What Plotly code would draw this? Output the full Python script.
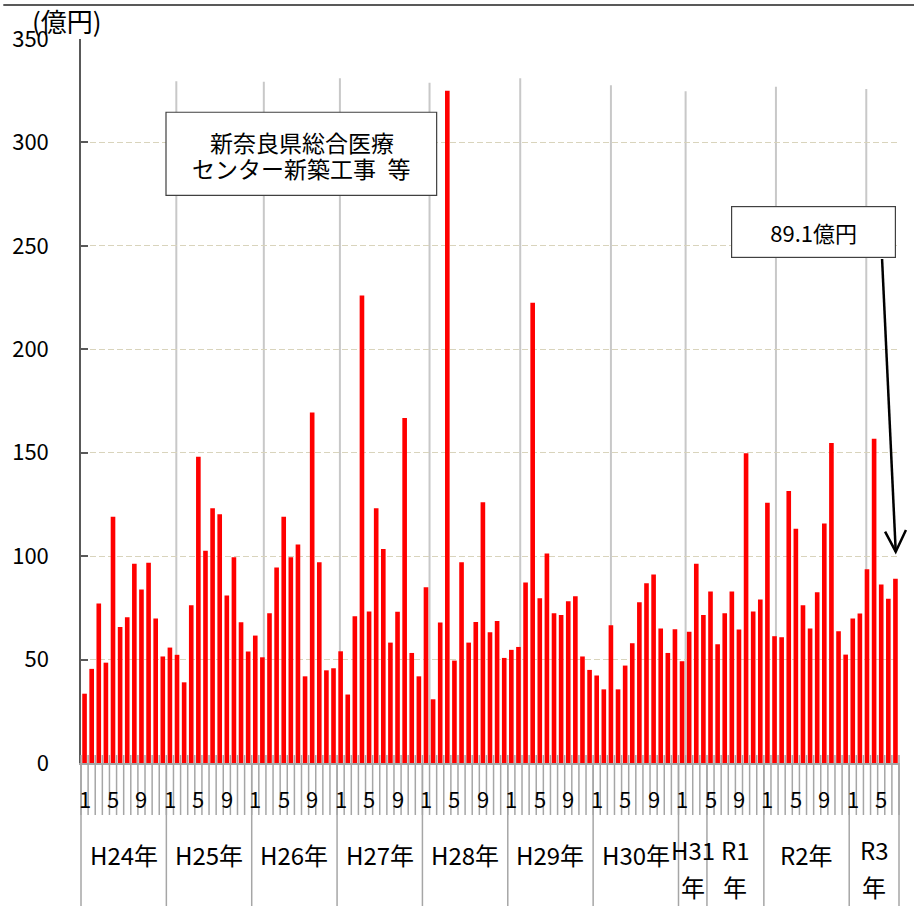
import plotly.graph_objects as go

# monthly values (億円), H24/1 .. R3/7
h24 = [33.5, 45.5, 77.1, 48.5, 119.0, 65.8, 70.5, 96.3, 83.9, 96.8, 69.8, 51.5]
h25 = [55.8, 52.3, 39.0, 76.3, 148.1, 102.6, 123.1, 120.2, 81.0, 99.5, 68.1, 53.9]
h26 = [61.6, 51.1, 72.4, 94.5, 119.0, 99.5, 105.6, 41.9, 169.4, 97.1, 44.8, 45.8]
h27 = [54.0, 33.1, 71.0, 226.0, 73.2, 123.2, 103.4, 58.2, 73.1, 166.8, 53.2, 41.9]
h28 = [85.0, 30.8, 67.9, 325.0, 49.5, 97.1, 58.2, 68.2, 126.1, 63.2, 68.7, 50.8]
h29 = [54.7, 56.1, 87.3, 222.5, 79.7, 101.3, 72.4, 71.5, 78.2, 80.6, 51.5, 45.0]
h30 = [42.3, 35.6, 66.6, 35.6, 47.1, 57.9, 77.7, 86.9, 91.1, 65.0, 53.2, 64.7]
h31 = [49.2, 63.4, 96.3, 71.5]
r1 = [82.9, 57.4, 72.4, 82.9, 64.5, 149.7, 73.2, 79.0]
r2 = [125.8, 61.3, 60.8, 131.5, 113.2, 76.3, 65.0, 82.6, 115.8, 154.7, 63.7, 52.4]
r3 = [69.8, 72.3, 93.7, 156.8, 86.3, 79.4, 89.1]

year_groups = [h24, h25, h26, h27, h28, h29, h30, h31, r1, r2, r3]
year_labels = ["H24年", "H25年", "H26年", "H27年", "H28年", "H29年", "H30年",
               "H31\n年", "R1\n年", "R2年", "R3\n年"]
month_marks = [1, 5, 9]

note_lines = ["新奈良県総合医療", "センター新築工事\u2002等"]
last_label = "89.1億円"

# grey divider lines drawn over the plot (bar position, top value)
divider_x = [12.9, 25.2, 35.9, 48.5, 61.25, 74.0, 84.5, 97.2, 109.9]
divider_top = [329.6, 329.3, 331.0, 328.8, 331.0, 327.7, 324.8, 326.9, 325.8]

FONT = "Noto Sans CJK JP"

values = [v for g in year_groups for v in g]
n = len(values)
xs = list(range(n))

fig = go.Figure()
fig.add_trace(go.Bar(
    x=xs, y=values, width=0.65,
    marker=dict(color="#FF0000", line=dict(width=0)),
    showlegend=False
))

shapes = []
annotations = []

# decorative vertical lines in the plot
for dx, top in zip(divider_x, divider_top):
    shapes.append(dict(type="line", xref="x", yref="y", x0=dx, x1=dx, y0=0, y1=top,
                       line=dict(color="#C8C8C8", width=2), layer="below"))

# month boundary ticks
for b in range(n + 1):
    shapes.append(dict(type="line", xref="paper", yref="paper", x0=b / n, x1=b / n,
                       y0=0.011, y1=-0.0718, line=dict(color="#A6A6A6", width=1.5)))

# month labels 1 / 5 / 9
for i in xs:
    m = i % 12 + 1
    if m in month_marks:
        annotations.append(dict(x=i, y=-0.0483, xref="x", yref="paper", text=str(m),
                                showarrow=False, font=dict(size=22, color="black"),
                                xanchor="center", yanchor="middle"))

# year groups: separators and labels
start = 0
for g, lab in zip(year_groups, year_labels):
    end = start + len(g)
    shapes.append(dict(type="line", xref="paper", yref="paper", x0=start / n, x1=start / n,
                       y0=0, y1=-0.1975, line=dict(color="#A6A6A6", width=1.5)))
    cx = (start + end - 1) / 2
    lines = lab.split("\n")
    ys = [-0.127] if len(lines) == 1 else [-0.120, -0.170]
    for t, yy in zip(lines, ys):
        annotations.append(dict(x=cx, y=yy, xref="x", yref="paper", text=t,
                                showarrow=False, font=dict(size=24, color="black"),
                                xanchor="center", yanchor="middle"))
    start = end
shapes.append(dict(type="line", xref="paper", yref="paper", x0=1, x1=1,
                   y0=0, y1=-0.1975, line=dict(color="#A6A6A6", width=1.5)))

# top border line
shapes.append(dict(type="line", xref="paper", yref="paper", x0=-0.095, x1=1.02,
                   y0=1.047, y1=1.047, line=dict(color="#595959", width=2)))

# note box about the H28 spike
shapes.append(dict(type="rect", xref="x", yref="y", x0=11.45, x1=49.5, y0=274.4, y1=314.6,
                   fillcolor="white", line=dict(color="#404040", width=1.2)))
for t, yy in zip(note_lines, [300.3, 287.5]):
    annotations.append(dict(x=30.5, y=yy, xref="x", yref="y", text=t, showarrow=False,
                            font=dict(size=23, color="black"),
                            xanchor="center", yanchor="middle"))

# arrow to the last bar
shapes.append(dict(type="line", xref="paper", yref="paper", x0=0.9793, y0=0.6961,
                   x1=0.9960, y1=0.2919, line=dict(color="black", width=2.5)))
shapes.append(dict(type="path", xref="paper", yref="paper",
                   path="M 0.9830 0.3195 L 0.9960 0.2919 L 1.0085 0.3218",
                   line=dict(color="black", width=2.5)))

annotations.append(dict(x=-0.017, y=1.025, xref="paper", yref="paper", text="(億円)",
                        showarrow=False, font=dict(size=26, color="black"),
                        xanchor="center", yanchor="middle"))
annotations.append(dict(x=102.5, y=256.6, xref="x", yref="y", text=last_label,
                        showarrow=False, font=dict(size=22, color="black"),
                        bgcolor="white", bordercolor="#404040", borderwidth=1.2,
                        borderpad=0, width=163, height=50))

fig.update_layout(
    width=914, height=906,
    margin=dict(l=78, r=15, t=39, b=143),
    paper_bgcolor="white", plot_bgcolor="white",
    font=dict(family=FONT, color="black"),
    bargap=0.35,
    shapes=shapes,
    annotations=annotations,
    xaxis=dict(range=[-0.5, n - 0.5], showticklabels=False, ticks="", showgrid=False,
               zeroline=False, showline=True, linecolor="#A6A6A6", linewidth=1.5),
    yaxis=dict(range=[0, 350], dtick=50, showgrid=True, gridcolor="#D9D4BC",
               griddash="6px,3px", gridwidth=1, zeroline=False,
               showline=True, linecolor="#595959", linewidth=1.5,
               ticks="inside", ticklen=7, tickcolor="#595959", tickwidth=1.5,
               tickfont=dict(size=22, color="black"), ticklabelstandoff=26),
)

# the page has a default body margin; drop it so the figure sits at the corner
fig.write_html("out.html", config={"displayModeBar": False},
               post_script="document.body.style.margin='0px';")
